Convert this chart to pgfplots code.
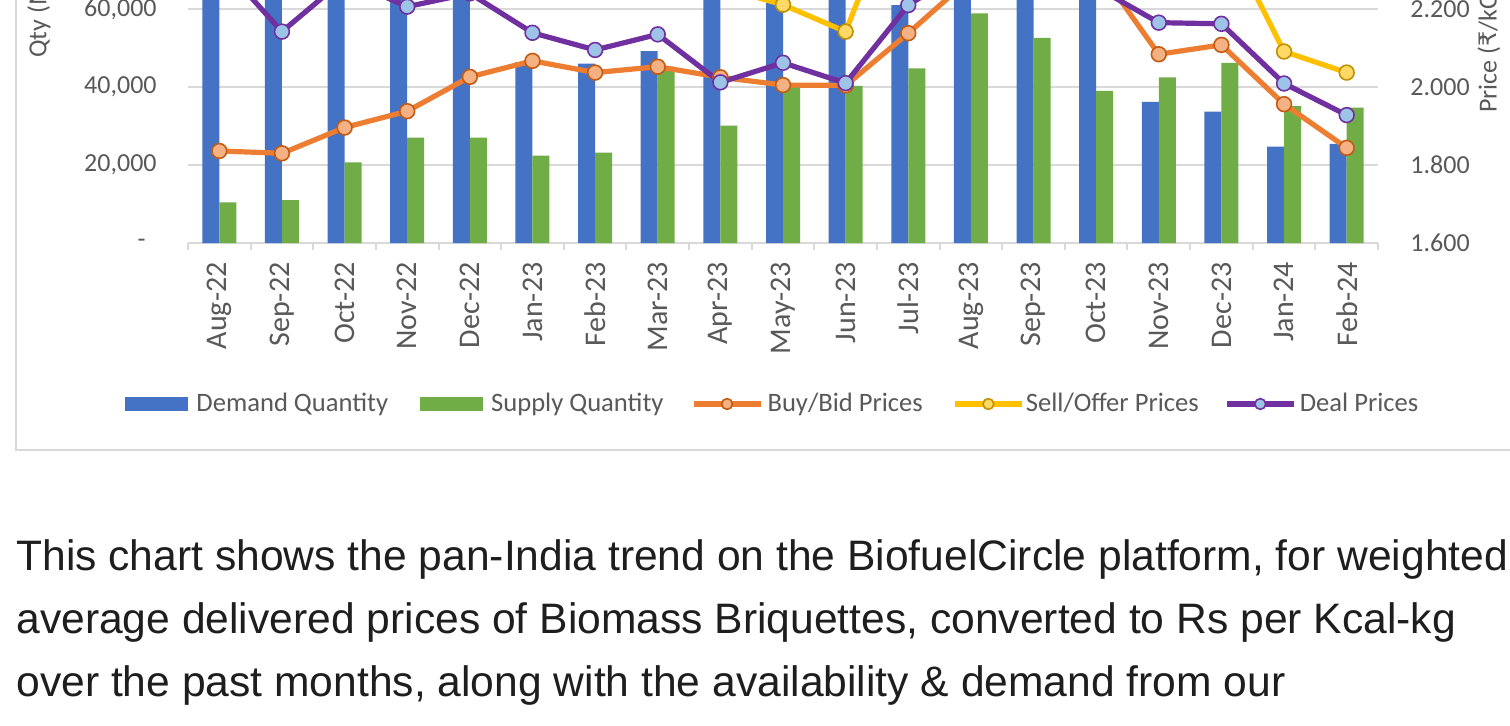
\documentclass[border=0pt]{standalone}
\usepackage{pgfplots}
\pgfplotsset{compat=1.18}
\usepackage{fontspec}
\setmainfont{Carlito}
\newfontfamily\chartfont{Carlito}
\newfontfamily\bodyfont{Liberation Sans}
\newfontfamily\dejavu{DejaVu Sans}
\definecolor{cblue}{HTML}{4472C4}
\definecolor{cgreen}{HTML}{70AD47}
\definecolor{corange}{HTML}{ED7D31}
\definecolor{corangefill}{HTML}{F4B183}
\definecolor{corangeedge}{HTML}{C55A11}
\definecolor{cyellow}{HTML}{FFC000}
\definecolor{cyellowfill}{HTML}{FFD966}
\definecolor{cyellowedge}{HTML}{BF9000}
\definecolor{cpurple}{HTML}{7030A0}
\definecolor{cpurplefill}{HTML}{9DC3E6}
\definecolor{gridgray}{HTML}{D9D9D9}
\definecolor{tickgray}{HTML}{595959}
\definecolor{bodytext}{HTML}{1E1E1E}

\pgfplotstableread{
x demand supply buy sell deal
0  85000 10400 1.836 2.450 2.320
1  78000 11000 1.830 2.420 2.142
2  88000 20700 1.896 2.440 2.277
3  72000 27000 1.938 2.460 2.206
4  80000 27000 2.026 2.500 2.240
5  46400 22400 2.067 2.480 2.139
6  46000 23200 2.037 2.400 2.095
7  49200 45200 2.052 2.380 2.135
8  75000 30100 2.025 2.256 2.012
9  61500 40100 2.005 2.211 2.062
10 70000 40300 2.004 2.142 2.010
11 61000 44800 2.138 2.550 2.210
12 92000 58900 2.280 2.550 2.310
13 84000 52600 2.330 2.520 2.300
14 78000 39000 2.310 2.480 2.256
15 36200 42500 2.084 2.450 2.165
16 33700 46200 2.108 2.410 2.162
17 24700 35100 1.956 2.091 2.009
18 25400 34700 1.844 2.037 1.928
}\datatable

\newcommand{\cf}{\chartfont\fontsize{13}{15}\selectfont}
\newcommand{\cfx}{\chartfont\fontsize{15}{17}\selectfont}
\newcommand{\cfl}{\chartfont\fontsize{13.3}{15}\selectfont}
\pgfplotsset{mylinelegend/.style={legend image code/.code={
    \draw[mark repeat=2,mark phase=2,##1, line width=3pt, mark size=2.7pt] plot coordinates {(0pt,0pt) (16.75pt,0pt) (33.5pt,0pt)};}}}

\begin{document}
\begin{tikzpicture}[x=1pt,y=1pt]
\useasboundingbox (0,0) rectangle (755,362.5);
\clip (0,0) rectangle (755,362.5);
\fill[white] (0,0) rectangle (755,362.5);
\draw[gridgray, line width=1pt] (8,500) -- (8,137.5) -- (800,137.5);

\begin{axis}[
  at={(94pt,241pt)}, anchor=south west,
  scale only axis, width=595pt, height=195pt,
  xmin=-0.5, xmax=18.5, ymin=0, ymax=100000,
  ybar=0pt, bar width=8.5pt,
  axis x line*=bottom, axis y line*=left,
  y axis line style={draw=none},
  x axis line style={draw=gridgray, line width=1pt, -},
  xtick={0,...,18},
  xticklabels={Aug-22,Sep-22,Oct-22,Nov-22,Dec-22,Jan-23,Feb-23,Mar-23,Apr-23,May-23,Jun-23,Jul-23,Aug-23,Sep-23,Oct-23,Nov-23,Dec-23,Jan-24,Feb-24},
  major tick length=0pt,
  minor xtick={-0.5,0.5,...,18.5},
  minor tick length=3.5pt, tick align=outside,
  minor x tick style={draw=gridgray, line width=1pt},
  major x tick style={draw=none}, major y tick style={draw=none},
  xticklabel style={rotate=90, anchor=east, inner sep=0pt, font=\cfx, text=tickgray},
  xticklabel shift=9.5pt,
  ytick={0,20000,40000,60000,80000,100000},
  yticklabels={{-\kern5.5pt},{20,000},{40,000},{60,000},{80,000},{100,000}},
  yticklabel style={anchor=east, inner sep=0pt, font=\cf, text=tickgray},
  yticklabel shift=15.5pt,
  ymajorgrids, grid style={gridgray, line width=1pt},
  /pgf/number format/assume math mode=true,
  clip=true,
]
\addplot[fill=cblue, draw=none] table[x=x, y=demand] {\datatable};
\addplot[fill=cgreen, draw=none] table[x=x, y=supply] {\datatable};
\end{axis}

\begin{axis}[
  at={(94pt,241pt)}, anchor=south west,
  scale only axis, width=595pt, height=195pt,
  xmin=-0.5, xmax=18.5, ymin=1.6, ymax=2.6,
  axis x line=none, axis y line*=right,
  y axis line style={draw=none},
  major tick length=0pt, major y tick style={draw=none},
  ytick={1.6,1.8,2.0,2.2,2.4,2.6},
  yticklabels={1.600,1.800,2.000,2.200,2.400,2.600},
  yticklabel style={anchor=west, inner sep=0pt, font=\cf, text=tickgray},
  yticklabel shift=16pt,
  /pgf/number format/assume math mode=true,
  clip=true,
  legend columns=5,
  legend style={at={(-0.0529,-0.4128)}, anchor=west, draw=none, fill=none,
    inner sep=0pt, font=\cfl, text=tickgray, nodes={inner sep=0pt},
    /tikz/every odd column/.append style={column sep=3pt},
    /tikz/every even column/.append style={column sep=16pt}},
]
\addlegendimage{fill=cblue, draw=none, legend image code/.code={\fill[cblue] (0pt,-3.5pt) rectangle (31.5pt,3.5pt); \path (32.5pt,0pt);}}
\addlegendentry{Demand Quantity}
\addlegendimage{fill=cgreen, draw=none, legend image code/.code={\fill[cgreen] (0pt,-3.5pt) rectangle (31.5pt,3.5pt); \path (32.5pt,0pt);}}
\addlegendentry{Supply Quantity\kern-2.5pt}
\addplot[corange, line width=2.6pt, mark=*, mark size=3.7pt, mark options={fill=corangefill, draw=corangeedge, line width=0.8pt}, mylinelegend] table[x=x, y=buy] {\datatable};
\addlegendentry{\kern-1pt Buy/Bid Prices\kern-1.5pt}
\addplot[cyellow, line width=2.6pt, mark=*, mark size=3.7pt, mark options={fill=cyellowfill, draw=cyellowedge, line width=0.8pt}, mylinelegend] table[x=x, y=sell] {\datatable};
\addlegendentry{\kern-2.5pt Sell/Offer Prices\kern-3.5pt}
\addplot[cpurple, line width=2.6pt, mark=*, mark size=3.7pt, mark options={fill=cpurplefill, draw=cpurple, line width=0.8pt}, mylinelegend] table[x=x, y=deal] {\datatable};
\addlegendentry{\kern-1.5pt Deal Prices}
\end{axis}

\node[rotate=90, anchor=west, inner sep=0pt, font=\cf, text=tickgray] at (19.5,333.5) {Qty (MT)};
\node[rotate=90, anchor=west, inner sep=0pt, font=\cf, text=tickgray] at (744.5,306) {Price ({\dejavu\fontsize{12}{14}\selectfont ₹}/kCal)};

\begin{scope}[every node/.style={anchor=base west, inner sep=0pt, text=bodytext, font=\bodyfont\fontsize{21.3}{24}\selectfont}]
\node at (8,77.15) {This chart shows the pan-India trend on the BiofuelCircle platform, for weighted};
\node at (8,45.85) {average delivered prices of Biomass Briquettes, converted to Rs per Kcal-kg};
\node at (8,14.15) {over the past months, along with the availability \& demand from our};
\end{scope}
\end{tikzpicture}
\end{document}
